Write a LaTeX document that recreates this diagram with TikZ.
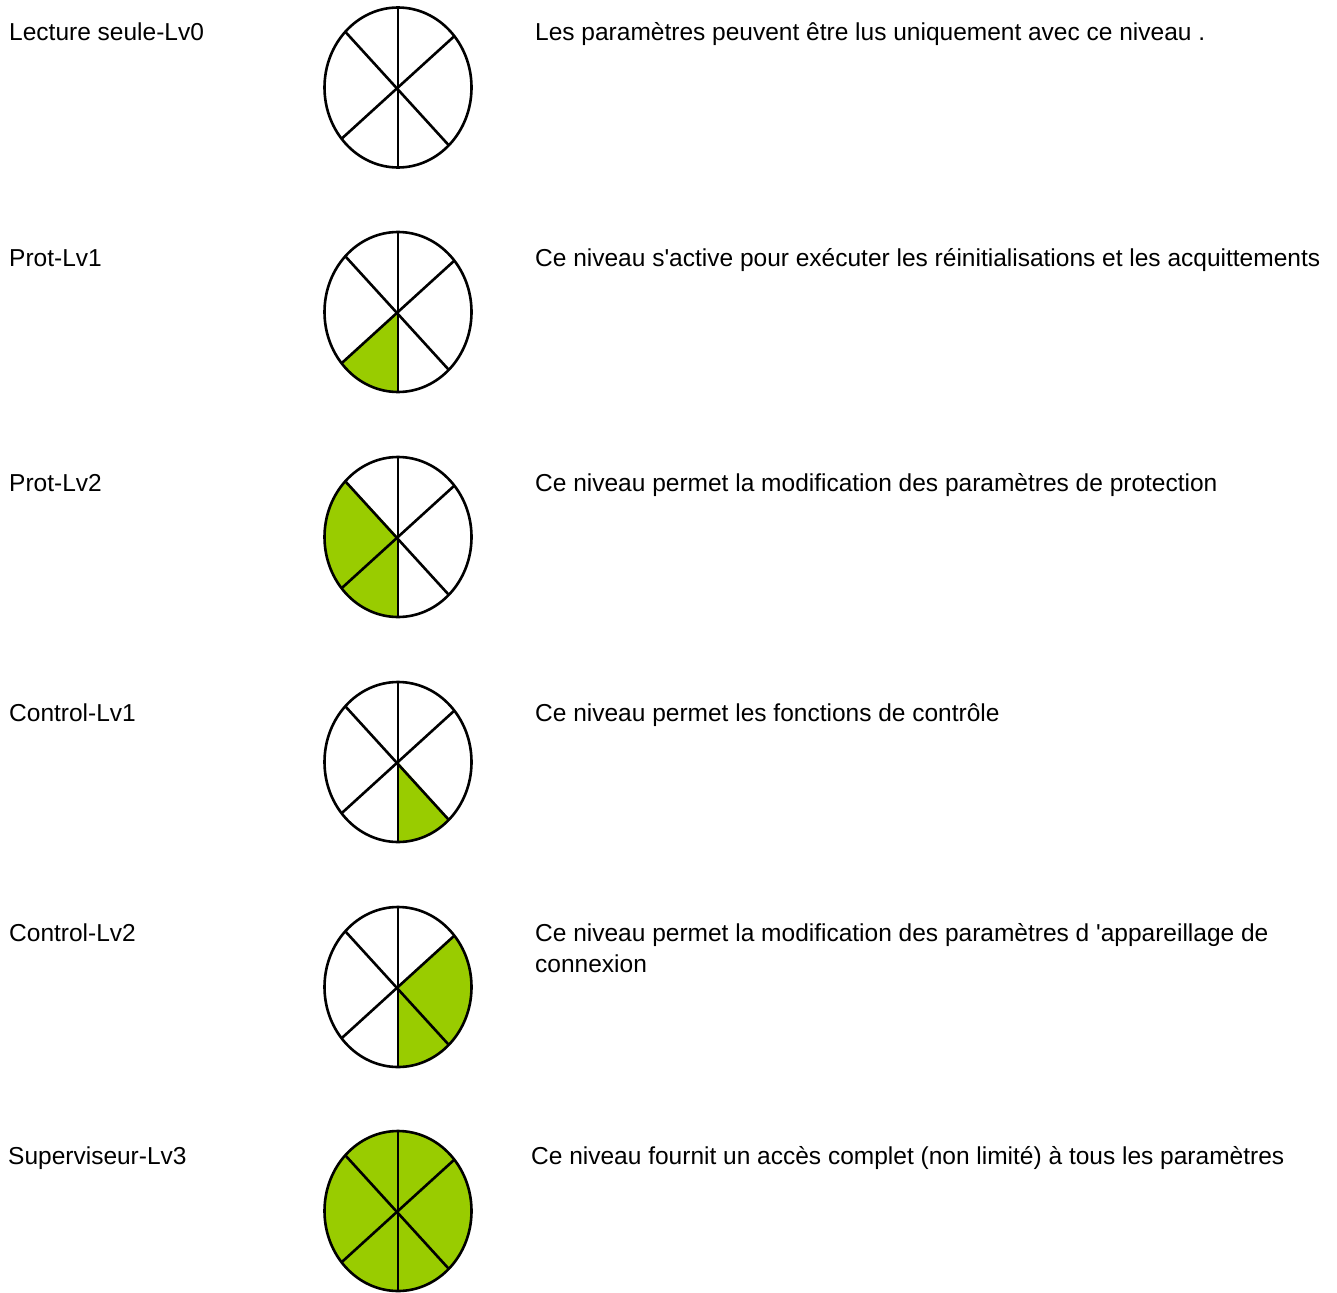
\documentclass[tikz,border=0pt]{standalone}
\usepackage{fontspec}
\setmainfont{Liberation Sans}
\definecolor{leafgreen}{HTML}{99CC00}
\tikzset{
  leaf/.style={fill=leafgreen},
  spoke/.style={draw=black,line width=2.6pt},
  rim/.style={draw=black,line width=2.6pt},
  lvl/.style={anchor=base west,inner sep=0pt,font=\fontsize{24.5}{31}\selectfont},
  desc/.style={anchor=base west,inner sep=0pt,align=left,font=\fontsize{24.5}{31}\selectfont},
}
\newcommand\dialat[2]{%
  \begin{scope}[shift={(398,#1)}]
    \begin{scope}
      \clip (0,0) ellipse [x radius=73.5, y radius=80];
      \foreach \s in {#2}{%
        \ifnum\s=1 \fill[leaf] (0,0) -- (0,200) -- (-220,200) -- cycle;\fi
        \ifnum\s=2 \fill[leaf] (0,0) -- (-208,-224) -- (-300,0) -- (-220,200) -- cycle;\fi
        \ifnum\s=3 \fill[leaf] (0,0) -- (0,228) -- (204,228) -- cycle;\fi
        \ifnum\s=4 \fill[leaf] (0,0) -- (224,-204) -- (300,0) -- (204,228) -- cycle;\fi
        \ifnum\s=9 \fill[leaf] (-100,-100) rectangle (100,100);\fi
      }
      \draw[spoke] (0,-100) -- (0,100);
      \draw[spoke] (-104,-112) -- (102,114);
      \draw[spoke] (112,-102) -- (-110,100);
    \end{scope}
    \draw[rim] (0,0) ellipse [x radius=73.5, y radius=80];
  \end{scope}}
\begin{document}
\begin{tikzpicture}[x=1pt,y=-1pt]
\useasboundingbox[fill=white] (0,0) rectangle (1337,1292);

\node[lvl] (l0) at (9,41) {Lecture seule-Lv0};
\dialat{87.5}{0}
\node[desc] (d0) at (535,41) {Les paramètres peuvent être lus uniquement avec ce niveau .};

\node[lvl] (l1) at (9,266) {Prot-Lv1};
\dialat{312}{1}
\node[desc] (d1) at (535,266) {Ce niveau s\textquotesingle active pour exécuter les réinitialisations et les acquittements};

\node[lvl] (l2) at (9,491) {Prot-Lv2};
\dialat{537}{1,2}
\node[desc] (d2) at (535,491) {Ce niveau permet la modification des paramètres de protection};

\node[lvl] (l3) at (9,721) {Control-Lv1};
\dialat{762}{3}
\node[desc] (d3) at (535,721) {Ce niveau permet les fonctions de contrôle};

\node[lvl] (l4) at (9,941) {Control-Lv2};
\dialat{987}{3,4}
\node[desc] (d4) at (535,972) {Ce niveau permet la modification des paramètres d \textquotesingle appareillage de\\connexion};

\node[lvl] (l5) at (8,1164) {Superviseur-Lv3};
\dialat{1211}{9}
\node[desc] (d5) at (531,1164) {Ce niveau fournit un accès complet (non limité) à tous les paramètres};
\end{tikzpicture}
\end{document}
